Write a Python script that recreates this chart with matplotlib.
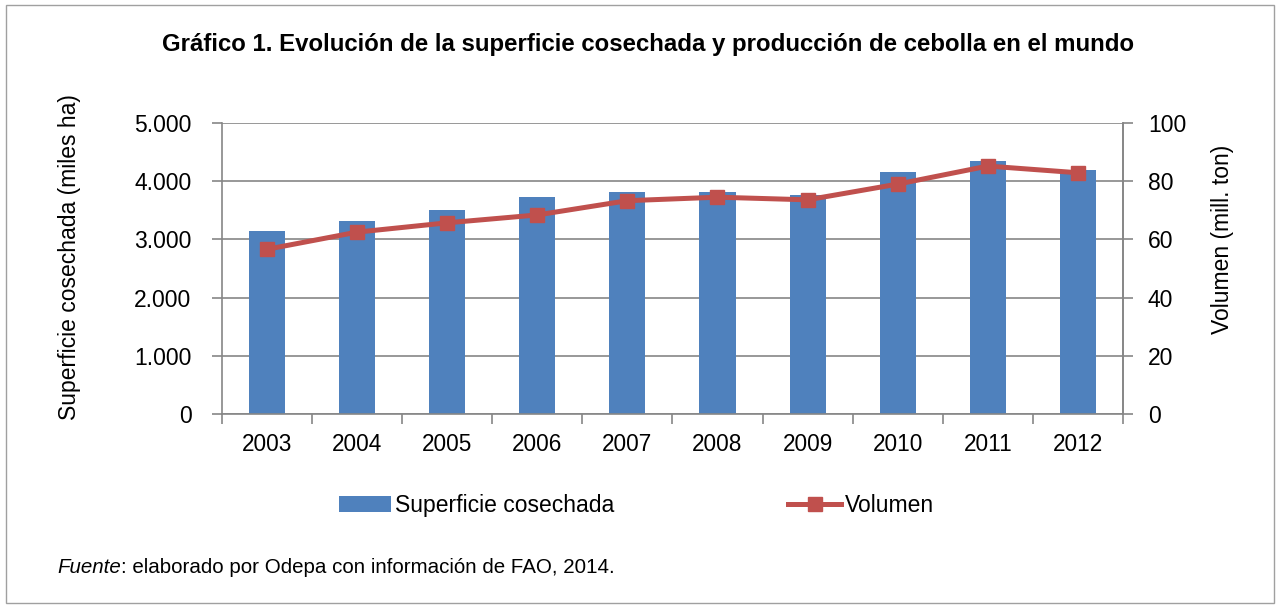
import matplotlib.pyplot as plt
import numpy as np
from matplotlib.patches import Rectangle
from matplotlib.ticker import FuncFormatter

plt.rcParams['font.family'] = ['Liberation Sans', 'DejaVu Sans']

years = ['2003', '2004', '2005', '2006', '2007', '2008', '2009', '2010', '2011', '2012']
superficie = [3145, 3316, 3510, 3730, 3810, 3810, 3770, 4160, 4350, 4200]
volumen = [56.6, 62.5, 65.7, 68.4, 73.3, 74.5, 73.6, 79.0, 85.2, 82.9]

bar_color = '#4F81BD'
line_color = '#C0504D'
grid_color = '#868686'

fig = plt.figure(figsize=(12.8, 6.08), dpi=100)
fig.patches.append(Rectangle((0.005, 0.008), 0.99, 0.984, transform=fig.transFigure,
                             fill=False, edgecolor='#A0A0A0', linewidth=1))

ax = fig.add_axes([0.1734, 0.3191, 0.7039, 0.4786])
x = np.arange(len(years))
ax.bar(x, superficie, width=0.4, color=bar_color, zorder=2, label='Superficie cosechada')
ax.set_xlim(-0.5, len(years) - 0.5)
ax.set_ylim(0, 5000)
ax.set_yticks(np.arange(0, 5001, 1000))
ax.yaxis.set_major_formatter(FuncFormatter(lambda v, p: f'{int(v):,}'.replace(',', '.')))
ax.grid(axis='y', color=grid_color, linewidth=1.2, zorder=0)
ax.set_axisbelow(True)

ax.set_xticks(x)
ax.set_xticklabels(years)
ax.set_xticks(np.arange(-0.5, len(years)), minor=True)
ax.tick_params(axis='x', which='major', length=0, labelsize=16.3, pad=14)
ax.tick_params(axis='x', which='minor', length=7, color=grid_color, width=1.2)
ax.tick_params(axis='y', length=7, color=grid_color, width=1.2, labelsize=16.5, pad=15)
ax.spines['top'].set_visible(False)
for s in ['left', 'right', 'bottom']:
    ax.spines[s].set_color(grid_color)
    ax.spines[s].set_linewidth(1.2)
ax.set_ylabel('Superficie cosechada (miles ha)', fontsize=16.5)
ax.yaxis.label.set_verticalalignment('center')
ax.yaxis.set_label_coords(-0.1687, 0.54)

ax2 = ax.twinx()
ax2.plot(x, volumen, color=line_color, linewidth=3.6, marker='s', markersize=9.5,
         zorder=3, label='Volumen')
ax2.set_ylim(0, 100)
ax2.set_yticks(np.arange(0, 101, 20))
ax2.tick_params(axis='y', length=7, color=grid_color, width=1.2, labelsize=16.5, pad=11)
for s in ['top', 'left', 'bottom']:
    ax2.spines[s].set_visible(False)
ax2.spines['right'].set_color(grid_color)
ax2.spines['right'].set_linewidth(1.2)
ax2.set_ylabel('Volumen (mill. ton)', fontsize=16.5)
ax2.yaxis.label.set_verticalalignment('center')
ax2.yaxis.set_label_coords(1.11, 0.6)

fig.text(0.506, 0.926, 'Gráfico 1. Evolución de la superficie cosechada y producción de cebolla en el mundo',
         ha='center', va='center', fontsize=17.3, fontweight='bold')

h1, l1 = ax.get_legend_handles_labels()
h2, l2 = ax2.get_legend_handles_labels()
fig.legend(h1 + h2, l1 + l2, loc='center', bbox_to_anchor=(0.497, 0.169), ncol=2,
           frameon=False, fontsize=16.5, handlelength=2.3, handletextpad=0.15,
           columnspacing=7.6)

t1 = fig.text(0.0445, 0.066, 'Fuente', fontsize=14.8, style='italic', ha='left', va='center')
ax.annotate(': elaborado por Odepa con información de FAO, 2014.', xy=(1, 0),
            xycoords=t1, ha='left', va='bottom', fontsize=14.8, annotation_clip=False)

fig.savefig('out.png', dpi=100)
